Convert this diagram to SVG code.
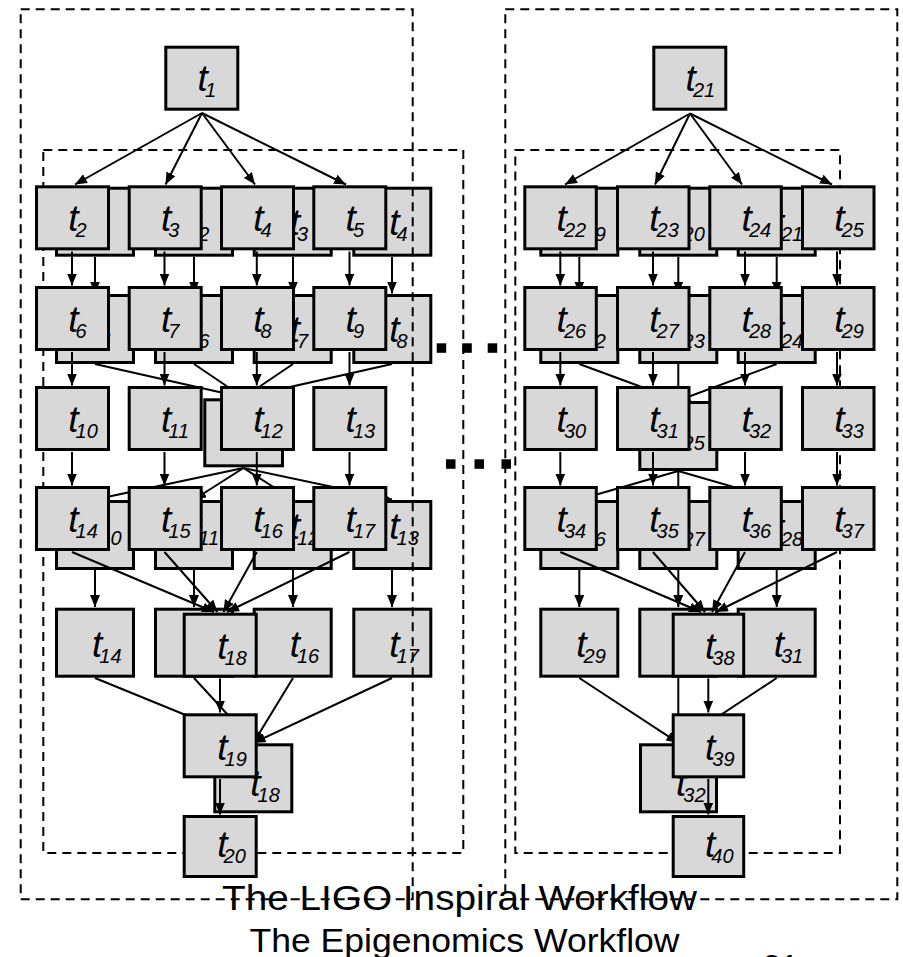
<svg xmlns="http://www.w3.org/2000/svg" width="903" height="957" viewBox="0 0 903 957">
<style>
.bb{fill:#d8d8d8;stroke:#000;stroke-width:3}
.fb{fill:#d8d8d8;stroke:#000;stroke-width:3}
.dash{fill:none;stroke:#000;stroke-width:2;stroke-dasharray:9 6}
.edge{fill:none;stroke:#000;stroke-width:2;marker-end:url(#ah)}
.lbl{font-family:"Liberation Sans",Arial,sans-serif;font-style:italic;font-size:37px;fill:#000}
.sub{font-size:20px}
.title{font-family:"Liberation Sans",Arial,sans-serif;fill:#000}
.dot{fill:#000}
</style>
<defs>
<marker id="ah" markerUnits="userSpaceOnUse" markerWidth="12" markerHeight="10" refX="12" refY="5" orient="auto" viewBox="0 0 12 10"><path d="M0,0 L12,5 L0,10 z" fill="#000"/></marker>
</defs>
<rect width="903" height="957" fill="#fff"/>

<!-- LIGO connectors (back layer) -->
<g id="ligo-connectors">
<path class="edge" d="M95,257 L95,293.5"/>
<path class="edge" d="M194,257 L194,293.5"/>
<path class="edge" d="M293,257 L293,293.5"/>
<path class="edge" d="M392,257 L392,293.5"/>
<path class="edge" d="M95,364 L243.5,397.5"/>
<path class="edge" d="M194,364 L243.5,397.5"/>
<path class="edge" d="M293,364 L243.5,397.5"/>
<path class="edge" d="M392,364 L243.5,397.5"/>
<path class="edge" d="M243.5,468 L95,499.5"/>
<path class="edge" d="M243.5,468 L194,499.5"/>
<path class="edge" d="M243.5,468 L293,499.5"/>
<path class="edge" d="M243.5,468 L392,499.5"/>
<path class="edge" d="M95,569 L95,607"/>
<path class="edge" d="M194,569 L194,607"/>
<path class="edge" d="M293,569 L293,607"/>
<path class="edge" d="M392,569 L392,607"/>
<path class="edge" d="M95,678 L253.5,742.8"/>
<path class="edge" d="M194,678 L253.5,742.8"/>
<path class="edge" d="M293,678 L253.5,742.8"/>
<path class="edge" d="M392,678 L253.5,742.8"/>

<path class="edge" d="M579.3,257 L579.3,293.5"/>
<path class="edge" d="M678.3,257 L678.3,293.5"/>
<path class="edge" d="M776.7,257 L776.7,293.5"/>
<path class="edge" d="M579.3,364 L678.3,400.5"/>
<path class="edge" d="M678.3,364 L678.3,400.5"/>
<path class="edge" d="M776.7,364 L678.3,400.5"/>
<path class="edge" d="M678.3,471 L579.3,499.5"/>
<path class="edge" d="M678.3,471 L678.3,499.5"/>
<path class="edge" d="M678.3,471 L776.7,499.5"/>
<path class="edge" d="M579.3,569 L579.3,607"/>
<path class="edge" d="M678.3,569 L678.3,607"/>
<path class="edge" d="M776.7,569 L776.7,607"/>
<path class="edge" d="M579.3,678 L678.3,742.8"/>
<path class="edge" d="M678.3,678 L678.3,742.8"/>
<path class="edge" d="M776.7,678 L678.3,742.8"/>
</g>

<!-- LIGO nodes (back layer) -->
<g id="L-t1"><rect class="bb" x="56.5" y="188.2" width="77" height="67"/><text class="lbl" x="92" y="235">t<tspan class="sub" dx="-3" dy="6">1</tspan></text></g>
<g id="L-t2"><rect class="bb" x="155.5" y="188.2" width="77" height="67"/><text class="lbl" x="191" y="235">t<tspan class="sub" dx="-3" dy="6">2</tspan></text></g>
<g id="L-t3"><rect class="bb" x="254.2" y="188.2" width="77" height="67"/><text class="lbl" x="289.7" y="235">t<tspan class="sub" dx="-3" dy="6">3</tspan></text></g>
<g id="L-t4"><rect class="bb" x="353.8" y="188.2" width="77" height="67"/><text class="lbl" x="389.3" y="235">t<tspan class="sub" dx="-3" dy="6">4</tspan></text></g>
<g id="L-t5"><rect class="bb" x="56.5" y="295.5" width="77" height="67"/><text class="lbl" x="92" y="341.7">t<tspan class="sub" dx="-3" dy="6">5</tspan></text></g>
<g id="L-t6"><rect class="bb" x="155.5" y="295.5" width="77" height="67"/><text class="lbl" x="191" y="341.7">t<tspan class="sub" dx="-3" dy="6">6</tspan></text></g>
<g id="L-t7"><rect class="bb" x="254.2" y="295.5" width="77" height="67"/><text class="lbl" x="289.7" y="341.7">t<tspan class="sub" dx="-3" dy="6">7</tspan></text></g>
<g id="L-t8"><rect class="bb" x="353.8" y="295.5" width="77" height="67"/><text class="lbl" x="389.3" y="341.7">t<tspan class="sub" dx="-3" dy="6">8</tspan></text></g>
<g id="L-t9"><rect class="bb" x="204.8" y="399.8" width="77.7" height="66"/><text class="lbl" x="240.3" y="441.3">t<tspan class="sub" dx="-3" dy="6">9</tspan></text></g>
<g id="L-t10"><rect class="bb" x="56.5" y="501.5" width="77" height="67"/><text class="lbl" x="92" y="539">t<tspan class="sub" dx="-3" dy="6">10</tspan></text></g>
<g id="L-t11"><rect class="bb" x="155.5" y="501.5" width="77" height="67"/><text class="lbl" x="191" y="539">t<tspan class="sub" dx="-3" dy="6">11</tspan></text></g>
<g id="L-t12"><rect class="bb" x="254.2" y="501.5" width="77" height="67"/><text class="lbl" x="289.7" y="539">t<tspan class="sub" dx="-3" dy="6">12</tspan></text></g>
<g id="L-t13"><rect class="bb" x="353.8" y="501.5" width="77" height="67"/><text class="lbl" x="389.3" y="539">t<tspan class="sub" dx="-3" dy="6">13</tspan></text></g>
<g id="L-t14"><rect class="bb" x="56.5" y="609.2" width="77" height="67"/><text class="lbl" x="92" y="656.7">t<tspan class="sub" dx="-3" dy="6">14</tspan></text></g>
<g id="L-t15"><rect class="bb" x="155.5" y="609.2" width="77" height="67"/><text class="lbl" x="191" y="656.7">t<tspan class="sub" dx="-3" dy="6">15</tspan></text></g>
<g id="L-t16"><rect class="bb" x="254.2" y="609.2" width="77" height="67"/><text class="lbl" x="289.7" y="656.7">t<tspan class="sub" dx="-3" dy="6">16</tspan></text></g>
<g id="L-t17"><rect class="bb" x="353.8" y="609.2" width="77" height="67"/><text class="lbl" x="389.3" y="656.7">t<tspan class="sub" dx="-3" dy="6">17</tspan></text></g>
<g id="L-t18"><rect class="bb" x="214.8" y="744.8" width="77" height="67"/><text class="lbl" x="250.3" y="796">t<tspan class="sub" dx="-3" dy="6">18</tspan></text></g>

<g id="L-t19"><rect class="bb" x="540.8" y="188.2" width="77" height="67"/><text class="lbl" x="576.3" y="235">t<tspan class="sub" dx="-3" dy="6">19</tspan></text></g>
<g id="L-t20"><rect class="bb" x="639.8" y="188.2" width="77" height="67"/><text class="lbl" x="675.3" y="235">t<tspan class="sub" dx="-3" dy="6">20</tspan></text></g>
<g id="L-t21"><rect class="bb" x="738.2" y="188.2" width="77" height="67"/><text class="lbl" x="773.7" y="235">t<tspan class="sub" dx="-3" dy="6">21</tspan></text></g>
<g id="L-t22"><rect class="bb" x="540.8" y="295.5" width="77" height="67"/><text class="lbl" x="576.3" y="341.7">t<tspan class="sub" dx="-3" dy="6">22</tspan></text></g>
<g id="L-t23"><rect class="bb" x="639.8" y="295.5" width="77" height="67"/><text class="lbl" x="675.3" y="341.7">t<tspan class="sub" dx="-3" dy="6">23</tspan></text></g>
<g id="L-t24"><rect class="bb" x="738.2" y="295.5" width="77" height="67"/><text class="lbl" x="773.7" y="341.7">t<tspan class="sub" dx="-3" dy="6">24</tspan></text></g>
<g id="L-t25"><rect class="bb" x="639.8" y="402.5" width="77" height="67"/><text class="lbl" x="675.3" y="444">t<tspan class="sub" dx="-3" dy="6">25</tspan></text></g>
<g id="L-t26"><rect class="bb" x="540.8" y="501.5" width="77" height="67"/><text class="lbl" x="576.3" y="540">t<tspan class="sub" dx="-3" dy="6">26</tspan></text></g>
<g id="L-t27"><rect class="bb" x="639.8" y="501.5" width="77" height="67"/><text class="lbl" x="675.3" y="540">t<tspan class="sub" dx="-3" dy="6">27</tspan></text></g>
<g id="L-t28"><rect class="bb" x="738.2" y="501.5" width="77" height="67"/><text class="lbl" x="773.7" y="540">t<tspan class="sub" dx="-3" dy="6">28</tspan></text></g>
<g id="L-t29"><rect class="bb" x="540.8" y="609.2" width="77" height="67"/><text class="lbl" x="576.3" y="656.7">t<tspan class="sub" dx="-3" dy="6">29</tspan></text></g>
<g id="L-t30"><rect class="bb" x="639.8" y="609.2" width="77" height="67"/><text class="lbl" x="675.3" y="656.7">t<tspan class="sub" dx="-3" dy="6">30</tspan></text></g>
<g id="L-t31"><rect class="bb" x="738.2" y="609.2" width="77" height="67"/><text class="lbl" x="773.7" y="656.7">t<tspan class="sub" dx="-3" dy="6">31</tspan></text></g>
<g id="L-t32"><rect class="bb" x="640.5" y="744.8" width="76" height="67"/><text class="lbl" x="676" y="796">t<tspan class="sub" dx="-3" dy="6">32</tspan></text></g>

<!-- dashed frames -->
<g id="frames">
<rect class="dash" x="20.7" y="9.3" width="392" height="890"/>
<rect class="dash" x="505.3" y="9.3" width="392" height="890"/>
<rect class="dash" x="43.3" y="150" width="420" height="703"/>
<rect class="dash" x="515.3" y="150" width="324.7" height="703"/>
</g>

<!-- Epigenomics connectors (front layer) -->
<g id="epi-connectors">
<path class="edge" d="M202,113 L75,184.5"/>
<path class="edge" d="M202,113 L165.5,184.5"/>
<path class="edge" d="M202,113 L255,184.5"/>
<path class="edge" d="M202,113 L346,184.5"/>
<path class="edge" d="M72,251.5 L72,285.5"/>
<path class="edge" d="M164.5,251.5 L164.5,285.5"/>
<path class="edge" d="M256.8,251.5 L256.8,285.5"/>
<path class="edge" d="M349.5,251.5 L349.5,285.5"/>
<path class="edge" d="M72,352 L72,385.5"/>
<path class="edge" d="M164.5,352 L164.5,385.5"/>
<path class="edge" d="M256.8,352 L256.8,385.5"/>
<path class="edge" d="M349.5,352 L349.5,385.5"/>
<path class="edge" d="M72,452 L72,485.5"/>
<path class="edge" d="M164.5,452 L164.5,485.5"/>
<path class="edge" d="M256.8,452 L256.8,485.5"/>
<path class="edge" d="M349.5,452 L349.5,485.5"/>
<path class="edge" d="M72,552 L214,612"/>
<path class="edge" d="M164.5,552 L217.5,612"/>
<path class="edge" d="M256.8,552 L223.5,612"/>
<path class="edge" d="M349.5,552 L227,612"/>
<path class="edge" d="M220,678.5 L220,712.5"/>
<path class="edge" d="M220,779 L220,814.5"/>

<path class="edge" d="M690,113.5 L565,184.5"/>
<path class="edge" d="M690,113.5 L655,184.5"/>
<path class="edge" d="M690,113.5 L742,184.5"/>
<path class="edge" d="M690,113.5 L832,184.5"/>
<path class="edge" d="M560.3,251.5 L560.3,285.5"/>
<path class="edge" d="M653,251.5 L653,285.5"/>
<path class="edge" d="M745,251.5 L745,285.5"/>
<path class="edge" d="M837,251.5 L837,285.5"/>
<path class="edge" d="M560.3,352 L560.3,385.5"/>
<path class="edge" d="M653,352 L653,385.5"/>
<path class="edge" d="M745,352 L745,385.5"/>
<path class="edge" d="M837,352 L837,385.5"/>
<path class="edge" d="M560.3,452 L560.3,485.5"/>
<path class="edge" d="M653,452 L653,485.5"/>
<path class="edge" d="M745,452 L745,485.5"/>
<path class="edge" d="M837,452 L837,485.5"/>
<path class="edge" d="M560.3,552 L701,612"/>
<path class="edge" d="M653,552 L705,612"/>
<path class="edge" d="M745,552 L712,612"/>
<path class="edge" d="M837,552 L716,612"/>
<path class="edge" d="M708.3,678.5 L708.3,712.5"/>
<path class="edge" d="M708.3,779 L708.3,814.5"/>
</g>

<!-- Epigenomics nodes (front layer) -->
<g id="E-t1"><rect class="fb" x="165.8" y="47.2" width="72" height="62"/><text class="lbl" x="197.6" y="91">t<tspan class="sub" dx="-3" dy="6">1</tspan></text></g>
<g id="E-t2"><rect class="fb" x="36.5" y="186.8" width="72" height="62"/><text class="lbl" x="68.3" y="230.8">t<tspan class="sub" dx="-3" dy="6">2</tspan></text></g>
<g id="E-t3"><rect class="fb" x="129.2" y="186.8" width="72" height="62"/><text class="lbl" x="161" y="230.8">t<tspan class="sub" dx="-3" dy="6">3</tspan></text></g>
<g id="E-t4"><rect class="fb" x="221.5" y="186.8" width="72" height="62"/><text class="lbl" x="253.3" y="230.8">t<tspan class="sub" dx="-3" dy="6">4</tspan></text></g>
<g id="E-t5"><rect class="fb" x="313.8" y="186.8" width="72" height="62"/><text class="lbl" x="345.6" y="230.8">t<tspan class="sub" dx="-3" dy="6">5</tspan></text></g>
<g id="E-t6"><rect class="fb" x="36.5" y="287.5" width="72" height="62"/><text class="lbl" x="68.3" y="331.5">t<tspan class="sub" dx="-3" dy="6">6</tspan></text></g>
<g id="E-t7"><rect class="fb" x="129.2" y="287.5" width="72" height="62"/><text class="lbl" x="161" y="331.5">t<tspan class="sub" dx="-3" dy="6">7</tspan></text></g>
<g id="E-t8"><rect class="fb" x="221.5" y="287.5" width="72" height="62"/><text class="lbl" x="253.3" y="331.5">t<tspan class="sub" dx="-3" dy="6">8</tspan></text></g>
<g id="E-t9"><rect class="fb" x="313.8" y="287.5" width="72" height="62"/><text class="lbl" x="345.6" y="331.5">t<tspan class="sub" dx="-3" dy="6">9</tspan></text></g>
<g id="E-t10"><rect class="fb" x="36.5" y="387.5" width="72" height="62"/><text class="lbl" x="68.3" y="431.5">t<tspan class="sub" dx="-3" dy="6">10</tspan></text></g>
<g id="E-t11"><rect class="fb" x="129.2" y="387.5" width="72" height="62"/><text class="lbl" x="161" y="431.5">t<tspan class="sub" dx="-3" dy="6">11</tspan></text></g>
<g id="E-t12"><rect class="fb" x="221.5" y="387.5" width="72" height="62"/><text class="lbl" x="253.3" y="431.5">t<tspan class="sub" dx="-3" dy="6">12</tspan></text></g>
<g id="E-t13"><rect class="fb" x="313.8" y="387.5" width="72" height="62"/><text class="lbl" x="345.6" y="431.5">t<tspan class="sub" dx="-3" dy="6">13</tspan></text></g>
<g id="E-t14"><rect class="fb" x="36.5" y="487.5" width="72" height="62"/><text class="lbl" x="68.3" y="531.5">t<tspan class="sub" dx="-3" dy="6">14</tspan></text></g>
<g id="E-t15"><rect class="fb" x="129.2" y="487.5" width="72" height="62"/><text class="lbl" x="161" y="531.5">t<tspan class="sub" dx="-3" dy="6">15</tspan></text></g>
<g id="E-t16"><rect class="fb" x="221.5" y="487.5" width="72" height="62"/><text class="lbl" x="253.3" y="531.5">t<tspan class="sub" dx="-3" dy="6">16</tspan></text></g>
<g id="E-t17"><rect class="fb" x="313.8" y="487.5" width="72" height="62"/><text class="lbl" x="345.6" y="531.5">t<tspan class="sub" dx="-3" dy="6">17</tspan></text></g>
<g id="E-t18"><rect class="fb" x="184.2" y="614.2" width="72" height="62"/><text class="lbl" x="217.3" y="659">t<tspan class="sub" dx="-3" dy="6">18</tspan></text></g>
<g id="E-t19"><rect class="fb" x="184.2" y="714.8" width="72" height="62"/><text class="lbl" x="217.3" y="760">t<tspan class="sub" dx="-3" dy="6">19</tspan></text></g>
<g id="E-t20"><rect class="fb" x="184.2" y="816.5" width="72" height="60"/><text class="lbl" x="217.3" y="856.7">t<tspan class="sub" dx="-4" dy="6">20</tspan></text></g>

<g id="E-t21"><rect class="fb" x="653.8" y="47.2" width="72" height="62"/><text class="lbl" x="685.6" y="91">t<tspan class="sub" dx="-3" dy="6">21</tspan></text></g>
<g id="E-t22"><rect class="fb" x="524.8" y="186.8" width="71.5" height="62"/><text class="lbl" x="556.6" y="230.8">t<tspan class="sub" dx="-3" dy="6">22</tspan></text></g>
<g id="E-t23"><rect class="fb" x="617.5" y="186.8" width="71.5" height="62"/><text class="lbl" x="649.3" y="230.8">t<tspan class="sub" dx="-3" dy="6">23</tspan></text></g>
<g id="E-t24"><rect class="fb" x="709.8" y="186.8" width="71.5" height="62"/><text class="lbl" x="741.6" y="230.8">t<tspan class="sub" dx="-3" dy="6">24</tspan></text></g>
<g id="E-t25"><rect class="fb" x="802.5" y="186.8" width="71.5" height="62"/><text class="lbl" x="834.3" y="230.8">t<tspan class="sub" dx="-3" dy="6">25</tspan></text></g>
<g id="E-t26"><rect class="fb" x="524.8" y="287.5" width="71.5" height="62"/><text class="lbl" x="556.6" y="331.5">t<tspan class="sub" dx="-3" dy="6">26</tspan></text></g>
<g id="E-t27"><rect class="fb" x="617.5" y="287.5" width="71.5" height="62"/><text class="lbl" x="649.3" y="331.5">t<tspan class="sub" dx="-3" dy="6">27</tspan></text></g>
<g id="E-t28"><rect class="fb" x="709.8" y="287.5" width="71.5" height="62"/><text class="lbl" x="741.6" y="331.5">t<tspan class="sub" dx="-3" dy="6">28</tspan></text></g>
<g id="E-t29"><rect class="fb" x="802.5" y="287.5" width="71.5" height="62"/><text class="lbl" x="834.3" y="331.5">t<tspan class="sub" dx="-3" dy="6">29</tspan></text></g>
<g id="E-t30"><rect class="fb" x="524.8" y="387.5" width="71.5" height="62"/><text class="lbl" x="556.6" y="431.5">t<tspan class="sub" dx="-3" dy="6">30</tspan></text></g>
<g id="E-t31"><rect class="fb" x="617.5" y="387.5" width="71.5" height="62"/><text class="lbl" x="649.3" y="431.5">t<tspan class="sub" dx="-3" dy="6">31</tspan></text></g>
<g id="E-t32"><rect class="fb" x="709.8" y="387.5" width="71.5" height="62"/><text class="lbl" x="741.6" y="431.5">t<tspan class="sub" dx="-3" dy="6">32</tspan></text></g>
<g id="E-t33"><rect class="fb" x="802.5" y="387.5" width="71.5" height="62"/><text class="lbl" x="834.3" y="431.5">t<tspan class="sub" dx="-3" dy="6">33</tspan></text></g>
<g id="E-t34"><rect class="fb" x="524.8" y="487.5" width="71.5" height="62"/><text class="lbl" x="556.6" y="531.5">t<tspan class="sub" dx="-3" dy="6">34</tspan></text></g>
<g id="E-t35"><rect class="fb" x="617.5" y="487.5" width="71.5" height="62"/><text class="lbl" x="649.3" y="531.5">t<tspan class="sub" dx="-3" dy="6">35</tspan></text></g>
<g id="E-t36"><rect class="fb" x="709.8" y="487.5" width="71.5" height="62"/><text class="lbl" x="741.6" y="531.5">t<tspan class="sub" dx="-3" dy="6">36</tspan></text></g>
<g id="E-t37"><rect class="fb" x="802.5" y="487.5" width="71.5" height="62"/><text class="lbl" x="834.3" y="531.5">t<tspan class="sub" dx="-3" dy="6">37</tspan></text></g>
<g id="E-t38"><rect class="fb" x="673.2" y="614.2" width="70.5" height="62"/><text class="lbl" x="705" y="659">t<tspan class="sub" dx="-3" dy="6">38</tspan></text></g>
<g id="E-t39"><rect class="fb" x="673.2" y="714.8" width="70.5" height="62"/><text class="lbl" x="705" y="760">t<tspan class="sub" dx="-3" dy="6">39</tspan></text></g>
<g id="E-t40"><rect class="fb" x="673.2" y="816.5" width="70.5" height="60"/><text class="lbl" x="705" y="856.7">t<tspan class="sub" dx="-4" dy="6">40</tspan></text></g>

<!-- ellipsis dots -->
<g id="ellipsis">
<rect class="dot" x="436.7" y="343.3" width="9.5" height="9.5"/>
<rect class="dot" x="462.3" y="343.3" width="9.5" height="9.5"/>
<rect class="dot" x="487.7" y="343.3" width="9.5" height="9.5"/>
<rect class="dot" x="446" y="459.3" width="9.5" height="9.5"/>
<rect class="dot" x="474.5" y="459.3" width="9.5" height="9.5"/>
<rect class="dot" x="501.5" y="459.3" width="9.5" height="9.5"/>
</g>

<!-- titles -->
<g id="titles">
<text class="title" x="222" y="910.3" font-size="35" textLength="475" lengthAdjust="spacingAndGlyphs">The LIGO Inspiral Workflow</text>
<text class="title" x="249.5" y="952" font-size="32.5" textLength="430" lengthAdjust="spacingAndGlyphs">The Epigenomics Workflow</text>
<text class="title" x="763" y="977" font-size="32">31</text>
</g>
</svg>
